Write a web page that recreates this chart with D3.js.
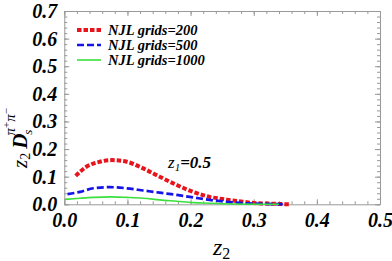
<!DOCTYPE html>
<html>
<head>
<meta charset="utf-8">
<script src="https://cdn.jsdelivr.net/npm/d3@7"></script>
<style>
  body { margin: 0; background: #fff; }
  .tick text { font-family: "Liberation Serif", "Times New Roman", serif; font-weight: bold; font-style: italic; font-size: 20px; fill: #000; }
  .axis path, .axis line { stroke: #999; }
  .lbl { font-family: "Liberation Serif", "Times New Roman", serif; }
</style>
</head>
<body>
<script>
// z1 = 0.5 curves
var z2Grid200 = [0.018, 0.035, 0.056, 0.075, 0.099, 0.125, 0.151, 0.178, 0.204, 0.23, 0.257, 0.283, 0.304, 0.33, 0.357]
var d200 = [0.103, 0.136, 0.154, 0.160, 0.154, 0.130, 0.100, 0.070, 0.045, 0.027, 0.017, 0.009, 0.004, 0.002, 0.0]

var z2Grid500 = [0.005, 0.025, 0.046, 0.072, 0.099, 0.125, 0.151, 0.178, 0.204, 0.23, 0.257, 0.283, 0.31, 0.35]
var d500 = [0.037, 0.045, 0.058, 0.062, 0.058, 0.050, 0.042, 0.034, 0.025, 0.016, 0.009, 0.004, 0.002, 0.0]

var z2Grid1000 = [0.001, 0.025, 0.046, 0.072, 0.099, 0.125, 0.151, 0.178, 0.204, 0.23, 0.27, 0.34]
var d1000 = [0.018, 0.022, 0.025, 0.027, 0.025, 0.022, 0.016, 0.011, 0.006, 0.004, 0.001, 0.0]

var legendNames = ["NJL grids=200", "NJL grids=500", "NJL grids=1000"]
var xTicks = [0, 0.1, 0.2, 0.3, 0.4, 0.5]
var yTicks = [0, 0.1, 0.2, 0.3, 0.4, 0.5, 0.6, 0.7]

var w = 392
var h = 261
var padL = 64.3, padR = 380, padT = 11, padB = 204.3

var svg = d3.select("body").append("svg")
    .attr("width", w)
    .attr("height", h)

var x = d3.scaleLinear().domain([0, 0.5]).range([padL, padR])
var y = d3.scaleLinear().domain([0, 0.7]).range([padB, padT])

var minorX = d3.range(0, 0.5001, 0.02)
var minorY = d3.range(0, 0.7001, 0.02)

// frame + ticks (inward)
svg.append("g").attr("class", "axis").attr("transform", "translate(0," + padB + ")")
    .call(d3.axisBottom(x).tickValues(minorX).tickFormat("").tickSize(-3).tickSizeOuter(0))
svg.append("g").attr("class", "axis").attr("transform", "translate(0," + padT + ")")
    .call(d3.axisTop(x).tickValues(minorX).tickFormat("").tickSize(-3).tickSizeOuter(0))
svg.append("g").attr("class", "axis").attr("transform", "translate(" + padL + ",0)")
    .call(d3.axisLeft(y).tickValues(minorY).tickFormat("").tickSize(-3).tickSizeOuter(0))
svg.append("g").attr("class", "axis").attr("transform", "translate(" + padR + ",0)")
    .call(d3.axisRight(y).tickValues(minorY).tickFormat("").tickSize(-3).tickSizeOuter(0))

svg.append("g").attr("class", "axis").attr("transform", "translate(0," + padB + ")")
    .call(d3.axisBottom(x).tickValues(xTicks).tickFormat(d3.format(".1f")).tickSize(-5).tickSizeOuter(0).tickPadding(9))
    .select(".domain").remove()
svg.append("g").attr("class", "axis").attr("transform", "translate(" + padL + ",0)")
    .call(d3.axisLeft(y).tickValues(yTicks).tickFormat(d3.format(".1f")).tickSize(-5).tickSizeOuter(0).tickPadding(7))
    .select(".domain").remove()
svg.append("g").attr("class", "axis").attr("transform", "translate(0," + padT + ")")
    .call(d3.axisTop(x).tickValues(xTicks).tickFormat("").tickSize(-5).tickSizeOuter(0))
    .select(".domain").remove()
svg.append("g").attr("class", "axis").attr("transform", "translate(" + padR + ",0)")
    .call(d3.axisRight(y).tickValues(yTicks).tickFormat("").tickSize(-5).tickSizeOuter(0))
    .select(".domain").remove()

// curves
var series = [
    {xs: z2Grid200, ys: d200, color: "#e8141b", width: 4, dash: "4.5,2"},
    {xs: z2Grid500, ys: d500, color: "#1414e8", width: 2.7, dash: "7,3"},
    {xs: z2Grid1000, ys: d1000, color: "#3ce03c", width: 1.6, dash: null}
]

var line = d3.line()
    .x(function (d) { return x(d[0]) })
    .y(function (d) { return y(d[1]) })
    .curve(d3.curveMonotoneX)

series.forEach(function (s) {
    svg.append("path")
        .datum(d3.zip(s.xs, s.ys))
        .attr("d", line)
        .attr("fill", "none")
        .attr("stroke", s.color)
        .attr("stroke-width", s.width)
        .attr("stroke-dasharray", s.dash)
})

// legend
var legY = [30, 45, 60]
series.forEach(function (s, i) {
    svg.append("line")
        .attr("x1", 77).attr("x2", 101)
        .attr("y1", legY[i]).attr("y2", legY[i])
        .attr("stroke", s.color)
        .attr("stroke-width", s.width)
        .attr("stroke-dasharray", s.dash)
    svg.append("text").attr("class", "lbl")
        .attr("x", 108).attr("y", legY[i] + 4.5)
        .attr("font-weight", "bold").attr("font-style", "italic")
        .attr("font-size", 14.5)
        .text(legendNames[i])
})

// annotation z1=0.5
var ann = svg.append("text").attr("class", "lbl")
    .attr("x", 168).attr("y", 168)
    .attr("font-style", "italic").attr("font-size", 17)
ann.append("tspan").text("z")
ann.append("tspan").attr("font-size", 11).attr("dy", 3).text("1")
ann.append("tspan").attr("dy", -3).attr("font-weight", "bold").text("=0.5")

// x label
var xl = svg.append("text").attr("class", "lbl")
    .attr("x", 213).attr("y", 255)
    .attr("font-style", "italic").attr("font-size", 24)
xl.append("tspan").text("z")
xl.append("tspan").attr("font-size", 16).attr("dy", 4).attr("font-style", "normal").text("2")

// y label
var yl = svg.append("text").attr("class", "lbl")
    .attr("transform", "translate(27,168) rotate(-90)")
    .attr("font-style", "italic").attr("font-size", 21)
yl.append("tspan").text("z")
yl.append("tspan").attr("font-size", 14).attr("dy", 3).attr("font-style", "normal").text("2")
yl.append("tspan").attr("dy", -3).attr("dx", 4).attr("font-weight", "bold").text("D")
yl.append("tspan").attr("font-size", 13).attr("dy", 5).attr("dx", -1).text("s")
yl.append("tspan").attr("font-size", 15).attr("dy", -17).attr("dx", -6).text("π")
yl.append("tspan").attr("font-size", 11).attr("dy", -5).attr("font-style", "normal").text("+")
yl.append("tspan").attr("font-size", 15).attr("dy", 5).text("π")
yl.append("tspan").attr("font-size", 11).attr("dy", -5).attr("font-style", "normal").text("−")
</script>
</body>
</html>
